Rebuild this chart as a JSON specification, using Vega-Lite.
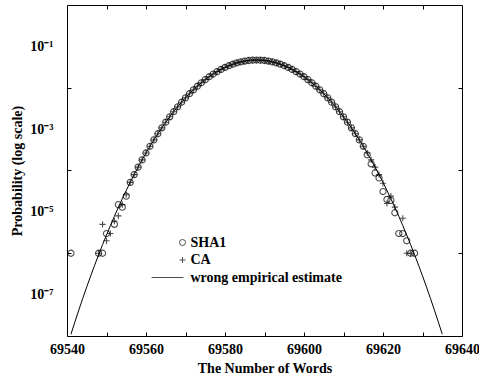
{
  "$schema": "https://vega.github.io/schema/vega-lite/v6.json",
  "width": 395,
  "height": 331,
  "autosize": "none",
  "padding": {"left": 67, "top": 5, "right": 17, "bottom": 41},
  "background": "white",
  "config": {
    "view": {"stroke": "black", "strokeWidth": 1},
    "font": "Liberation Serif",
    "axis": {
      "labelFont": "Liberation Serif", "labelFontWeight": "bold", "labelFontSize": 14, "labelColor": "black",
      "titleFont": "Liberation Serif", "titleFontWeight": "bold", "titleFontSize": 14, "titleColor": "black",
      "domain": false, "grid": false, "tickColor": "black", "tickWidth": 1, "tickSize": -4
    },
    "legend": {"labelFont": "Liberation Serif", "labelFontWeight": "bold", "labelFontSize": 14, "labelColor": "black"}
  },
  "data": {"values": [
    {"w": 69541, "est": 1.105e-8, "SHA1": 1e-6},
    {"w": 69542, "est": 2.19e-8},
    {"w": 69543, "est": 4.27e-8},
    {"w": 69544, "est": 8.18e-8},
    {"w": 69545, "est": 1.537e-7},
    {"w": 69546, "est": 2.84e-7},
    {"w": 69547, "est": 5.15e-7},
    {"w": 69548, "est": 9.18e-7, "SHA1": 1e-6, "CA": 1e-6},
    {"w": 69549, "est": 1.609e-6, "SHA1": 1e-6, "CA": 5e-6},
    {"w": 69550, "est": 2.77e-6, "SHA1": 3e-6, "CA": 2e-6},
    {"w": 69551, "est": 4.7e-6, "CA": 3e-6},
    {"w": 69552, "est": 7.84e-6, "SHA1": 5e-6, "CA": 6e-6},
    {"w": 69553, "est": 1.287e-5, "SHA1": 1.5e-5, "CA": 8e-6},
    {"w": 69554, "est": 2.08e-5, "SHA1": 1.3e-5, "CA": 1.5e-5},
    {"w": 69555, "est": 3.3e-5, "SHA1": 2.4e-5, "CA": 2.6e-5},
    {"w": 69556, "est": 5.17e-5, "SHA1": 5.17e-5, "CA": 5.17e-5},
    {"w": 69557, "est": 7.96e-5, "SHA1": 7.96e-5, "CA": 7.96e-5},
    {"w": 69558, "est": 1.208e-4, "SHA1": 1.208e-4, "CA": 1.208e-4},
    {"w": 69559, "est": 1.805e-4, "SHA1": 1.805e-4, "CA": 1.805e-4},
    {"w": 69560, "est": 2.656e-4, "SHA1": 2.656e-4, "CA": 2.656e-4},
    {"w": 69561, "est": 3.851e-4, "SHA1": 3.851e-4, "CA": 3.851e-4},
    {"w": 69562, "est": 5.5e-4, "SHA1": 5.5e-4, "CA": 5.5e-4},
    {"w": 69563, "est": 7.745e-4, "SHA1": 7.745e-4, "CA": 7.745e-4},
    {"w": 69564, "est": 1.075e-3, "SHA1": 1.075e-3, "CA": 1.075e-3},
    {"w": 69565, "est": 1.471e-3, "SHA1": 1.471e-3, "CA": 1.471e-3},
    {"w": 69566, "est": 1.983e-3, "SHA1": 1.983e-3, "CA": 1.983e-3},
    {"w": 69567, "est": 2.637e-3, "SHA1": 2.637e-3, "CA": 2.637e-3},
    {"w": 69568, "est": 3.457e-3, "SHA1": 3.457e-3, "CA": 3.457e-3},
    {"w": 69569, "est": 4.472e-3, "SHA1": 4.472e-3, "CA": 4.472e-3},
    {"w": 69570, "est": 5.704e-3, "SHA1": 5.704e-3, "CA": 5.704e-3},
    {"w": 69571, "est": 7.175e-3, "SHA1": 7.175e-3, "CA": 7.175e-3},
    {"w": 69572, "est": 8.904e-3, "SHA1": 8.904e-3, "CA": 8.904e-3},
    {"w": 69573, "est": 0.0109, "SHA1": 0.0109, "CA": 0.0109},
    {"w": 69574, "est": 0.01317, "SHA1": 0.01317, "CA": 0.01317},
    {"w": 69575, "est": 0.0157, "SHA1": 0.0157, "CA": 0.0157},
    {"w": 69576, "est": 0.01846, "SHA1": 0.01846, "CA": 0.01846},
    {"w": 69577, "est": 0.02143, "SHA1": 0.02143, "CA": 0.02143},
    {"w": 69578, "est": 0.02455, "SHA1": 0.02455, "CA": 0.02455},
    {"w": 69579, "est": 0.02775, "SHA1": 0.02775, "CA": 0.02775},
    {"w": 69580, "est": 0.03097, "SHA1": 0.03097, "CA": 0.03097},
    {"w": 69581, "est": 0.03411, "SHA1": 0.03411, "CA": 0.03411},
    {"w": 69582, "est": 0.0371, "SHA1": 0.0371, "CA": 0.0371},
    {"w": 69583, "est": 0.03983, "SHA1": 0.03983, "CA": 0.03983},
    {"w": 69584, "est": 0.0422, "SHA1": 0.0422, "CA": 0.0422},
    {"w": 69585, "est": 0.04415, "SHA1": 0.04415, "CA": 0.04415},
    {"w": 69586, "est": 0.04558, "SHA1": 0.04558, "CA": 0.04558},
    {"w": 69587, "est": 0.04647, "SHA1": 0.04647, "CA": 0.04647},
    {"w": 69588, "est": 0.04677, "SHA1": 0.04677, "CA": 0.04677},
    {"w": 69589, "est": 0.04647, "SHA1": 0.04647, "CA": 0.04647},
    {"w": 69590, "est": 0.04558, "SHA1": 0.04558, "CA": 0.04558},
    {"w": 69591, "est": 0.04415, "SHA1": 0.04415, "CA": 0.04415},
    {"w": 69592, "est": 0.0422, "SHA1": 0.0422, "CA": 0.0422},
    {"w": 69593, "est": 0.03983, "SHA1": 0.03983, "CA": 0.03983},
    {"w": 69594, "est": 0.0371, "SHA1": 0.0371, "CA": 0.0371},
    {"w": 69595, "est": 0.03411, "SHA1": 0.03411, "CA": 0.03411},
    {"w": 69596, "est": 0.03097, "SHA1": 0.03097, "CA": 0.03097},
    {"w": 69597, "est": 0.02775, "SHA1": 0.02775, "CA": 0.02775},
    {"w": 69598, "est": 0.02455, "SHA1": 0.02455, "CA": 0.02455},
    {"w": 69599, "est": 0.02143, "SHA1": 0.02143, "CA": 0.02143},
    {"w": 69600, "est": 0.01846, "SHA1": 0.01846, "CA": 0.01846},
    {"w": 69601, "est": 0.0157, "SHA1": 0.0157, "CA": 0.0157},
    {"w": 69602, "est": 0.01317, "SHA1": 0.01317, "CA": 0.01317},
    {"w": 69603, "est": 0.0109, "SHA1": 0.0109, "CA": 0.0109},
    {"w": 69604, "est": 8.904e-3, "SHA1": 8.904e-3, "CA": 8.904e-3},
    {"w": 69605, "est": 7.175e-3, "SHA1": 7.175e-3, "CA": 7.175e-3},
    {"w": 69606, "est": 5.704e-3, "SHA1": 5.704e-3, "CA": 5.704e-3},
    {"w": 69607, "est": 4.472e-3, "SHA1": 4.472e-3, "CA": 4.472e-3},
    {"w": 69608, "est": 3.457e-3, "SHA1": 3.457e-3, "CA": 3.457e-3},
    {"w": 69609, "est": 2.637e-3, "SHA1": 2.637e-3, "CA": 2.637e-3},
    {"w": 69610, "est": 1.983e-3, "SHA1": 1.983e-3, "CA": 1.983e-3},
    {"w": 69611, "est": 1.471e-3, "SHA1": 1.471e-3, "CA": 1.471e-3},
    {"w": 69612, "est": 1.075e-3, "SHA1": 1.075e-3, "CA": 1.075e-3},
    {"w": 69613, "est": 7.745e-4, "SHA1": 7.745e-4, "CA": 7.745e-4},
    {"w": 69614, "est": 5.5e-4, "SHA1": 5.5e-4, "CA": 5.5e-4},
    {"w": 69615, "est": 3.851e-4, "SHA1": 3.851e-4, "CA": 3.851e-4},
    {"w": 69616, "est": 2.656e-4, "SHA1": 2.4e-4, "CA": 2.656e-4},
    {"w": 69617, "est": 1.805e-4, "SHA1": 1.45e-4, "CA": 1.805e-4},
    {"w": 69618, "est": 1.208e-4, "SHA1": 8.7e-5, "CA": 1.208e-4},
    {"w": 69619, "est": 7.96e-5, "SHA1": 6.6e-5, "CA": 7.96e-5},
    {"w": 69620, "est": 5.17e-5, "SHA1": 3.1e-5, "CA": 4.9e-5},
    {"w": 69621, "est": 3.3e-5, "SHA1": 2.0e-5, "CA": 1.6e-5},
    {"w": 69622, "est": 2.08e-5, "SHA1": 1.9e-5, "CA": 2.4e-5},
    {"w": 69623, "est": 1.287e-5, "SHA1": 9.5e-6, "CA": 1.3e-5},
    {"w": 69624, "est": 7.84e-6, "SHA1": 3e-6},
    {"w": 69625, "est": 4.7e-6, "SHA1": 3e-6, "CA": 7e-6},
    {"w": 69626, "est": 2.77e-6, "SHA1": 2e-6, "CA": 1e-6},
    {"w": 69627, "est": 1.609e-6, "SHA1": 1e-6, "CA": 1e-6},
    {"w": 69628, "est": 9.18e-7, "SHA1": 1e-6},
    {"w": 69629, "est": 5.15e-7},
    {"w": 69630, "est": 2.84e-7},
    {"w": 69631, "est": 1.537e-7},
    {"w": 69632, "est": 8.18e-8},
    {"w": 69633, "est": 4.27e-8},
    {"w": 69634, "est": 2.19e-8},
    {"w": 69635, "est": 1.105e-8}
  ]},
  "layer": [
    {
      "mark": {"type": "line", "color": "black", "strokeWidth": 1, "clip": true},
      "encoding": {
        "x": {"field": "w", "type": "quantitative",
              "scale": {"domain": [69540, 69640], "nice": false, "zero": false},
              "axis": {"orient": "bottom", "title": "The Number of Words", "format": "d",
                       "values": [69540, 69550, 69560, 69570, 69580, 69590, 69600, 69610, 69620, 69630, 69640],
                       "labelExpr": "datum.value % 20 == 0 ? datum.label : ''",
                       "labelPadding": 10, "titlePadding": 5, "labelFlush": false, "labelOverlap": false}},
        "y": {"field": "est", "type": "quantitative",
              "scale": {"type": "log", "domain": [1e-8, 1], "nice": false},
              "axis": {"orient": "left", "title": "Probability (log scale)",
                       "values": [1e-7, 1e-6, 1e-5, 1e-4, 1e-3, 1e-2, 1e-1],
                       "labelExpr": "['', '10⁻¹', '', '10⁻³', '', '10⁻⁵', '', '10⁻⁷', ''][-round(log(datum.value)/LN10)]",
                       "tickOpacity": {"condition": {"test": "round(log(datum.value)/LN10) % 2 != 0", "value": 0}, "value": 1},
                       "labelPadding": 18, "titlePadding": 5, "labelFlush": false, "labelOverlap": false}}
      }
    },
    {
      "transform": [
        {"fold": ["SHA1", "CA"], "as": ["series", "p"]},
        {"filter": "isValid(datum.p)"}
      ],
      "mark": {"type": "point", "filled": false, "color": "black", "strokeWidth": 1.1, "size": 38, "clip": true},
      "encoding": {
        "x": {"field": "w", "type": "quantitative",
              "scale": {"domain": [69540, 69640], "nice": false, "zero": false},
              "axis": {"orient": "top", "title": null, "labels": false,
                       "values": [69550, 69560, 69570, 69580, 69590, 69600, 69610, 69620, 69630]}},
        "y": {"field": "p", "type": "quantitative",
              "scale": {"type": "log", "domain": [1e-8, 1], "nice": false},
              "axis": {"orient": "right", "title": null, "labels": false, "values": [1e-6, 1e-4, 1e-2]}},
        "shape": {"field": "series", "type": "nominal",
                  "scale": {"domain": ["SHA1", "CA", "wrong empirical estimate"],
                            "range": ["circle", "M-1,0H1M0,-1V1", "M-10.3,0H0.3"]},
                  "legend": {"title": null, "orient": "none", "legendX": 108.5, "legendY": 230.5,
                             "padding": 0, "symbolSize": 36, "symbolStrokeColor": "black",
                             "symbolFillColor": "transparent", "symbolStrokeWidth": 1,
                             "rowPadding": 3.5, "labelOffset": 1}}
      }
    }
  ],
  "resolve": {"scale": {"x": "independent", "y": "independent"}}
}
